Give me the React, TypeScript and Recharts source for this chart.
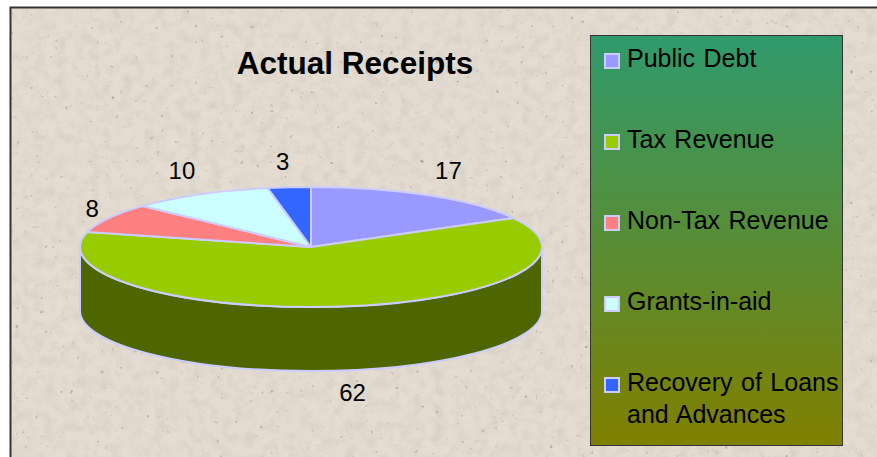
import React from 'react';
import { PieChart, Pie, Legend } from 'recharts';

const categories = ['Public Debt', 'Tax Revenue', 'Non-Tax Revenue', 'Grants-in-aid', 'Recovery of Loans and Advances'];
const receipts = [17, 62, 8, 10, 3];
const topColors = ['#9999FF', '#99CC00', '#FF8080', '#CCFFFF', '#3366FF'];
const sideColors = ['#4D4D80', '#4D6600', '#804040', '#668080', '#1A3380'];

const data = categories.map((name, i) => ({
  name,
  value: receipts[i],
  fill: topColors[i],
  side: sideColors[i]
}));

const WIDTH = 877;
const HEIGHT = 457;
const FONT = '"Liberation Sans", Arial, sans-serif';
const EDGE = '#CCCCFF';

// flattening of the pie and height of its side wall
const SQUASH = 60 / 231;
const DEPTH = 64;

const RAD = Math.PI / 180;

const ellipsePoint = (cx: number, cy: number, r: number, angle: number) => ({
  x: cx + r * Math.cos(angle * RAD),
  y: cy - r * SQUASH * Math.sin(angle * RAD)
});

// recharts runs clockwise, so startAngle is bigger than endAngle
const Slice3D = (props: any) => {
  const { cx, cy, outerRadius: r, startAngle, endAngle, fill, side } = props;
  const ry = r * SQUASH;
  const from = ellipsePoint(cx, cy, r, startAngle);
  const to = ellipsePoint(cx, cy, r, endAngle);
  const large = startAngle - endAngle > 180 ? 1 : 0;
  const top = `M${cx},${cy} L${from.x},${from.y} A${r},${ry} 0 ${large} 1 ${to.x},${to.y} Z`;

  // only the part of the rim in the front half has a visible wall
  const wallStart = Math.min(startAngle, 0);
  const wallEnd = Math.max(endAngle, -180);
  let wall = null;
  if (wallStart > wallEnd) {
    const a = ellipsePoint(cx, cy, r, wallStart);
    const b = ellipsePoint(cx, cy, r, wallEnd);
    const d = `M${a.x},${a.y} A${r},${ry} 0 0 1 ${b.x},${b.y} L${b.x},${b.y + DEPTH} A${r},${ry} 0 0 0 ${a.x},${a.y + DEPTH} Z`;
    wall = <path d={d} fill={side} stroke={EDGE} strokeWidth={2} strokeLinejoin="round" />;
  }

  return (
    <g>
      {wall}
      <path d={top} fill={fill} stroke={EDGE} strokeWidth={2} strokeLinejoin="round" />
    </g>
  );
};

// small per-slice nudges, the labels do not sit on one perfect ellipse
const labelNudgeX = [1, 8, 16, 0, -3];
const labelNudgeY = [-1, -6, 3, 0, 2];

const renderLabel = (props: any) => {
  const { cx, cy, midAngle, value, index } = props;
  const sin = Math.sin(midAngle * RAD);
  const x = cx + 268 * Math.cos(midAngle * RAD) + labelNudgeX[index];
  const y = cy - 88 * sin + (sin < 0 ? DEPTH : 0) + labelNudgeY[index];
  return (
    <text x={x} y={y + 9} textAnchor="middle" fontFamily={FONT} fontSize={24} fill="#000000">
      {value}
    </text>
  );
};

const LegendBox = ({ payload }: any) => (
  <div
    style={{
      position: 'relative',
      boxSizing: 'border-box',
      width: 253,
      height: 411,
      border: '1px solid #333333',
      background: 'linear-gradient(180deg, #2F9A6C 0%, #808000 100%)',
      fontFamily: FONT,
      fontSize: 25,
      lineHeight: '32px',
      color: '#000000'
    }}
  >
    {(payload || []).map((entry: any, i: number) => (
      <div key={entry.value} style={{ position: 'absolute', left: 13, top: 6 + i * 81, width: 236 }}>
        <span
          style={{
            position: 'absolute',
            left: 0,
            top: 11,
            boxSizing: 'border-box',
            width: 16,
            height: 16,
            background: entry.color,
            border: `2px solid ${EDGE}`
          }}
        />
        <div style={{ marginLeft: 23, wordSpacing: 1.5 }}>{entry.value}</div>
      </div>
    ))}
  </div>
);

const Paper = () => (
  <svg width={WIDTH} height={HEIGHT} style={{ position: 'absolute', left: 0, top: 0 }}>
    <defs>
      <filter id="mottle" x="0" y="0" width="100%" height="100%">
        <feTurbulence type="fractalNoise" baseFrequency="0.09" numOctaves={3} seed={7} />
        <feColorMatrix
          type="matrix"
          values="0 0 0 0 0.45  0 0 0 0 0.41  0 0 0 0 0.35  0.35 0.35 0 0 -0.3"
        />
      </filter>
      <filter id="specks" x="0" y="0" width="100%" height="100%">
        <feTurbulence type="fractalNoise" baseFrequency="0.2" numOctaves={2} seed={21} />
        <feColorMatrix
          type="matrix"
          values="0 0 0 0 0.38  0 0 0 0 0.35  0 0 0 0 0.3  5 0 0 0 -3.6"
        />
      </filter>
    </defs>
    <rect x={10.5} y={7.5} width={WIDTH} height={HEIGHT} fill="#E4DCD0" stroke="#333333" strokeWidth={2} />
    <rect x={12} y={9} width={WIDTH} height={HEIGHT} filter="url(#mottle)" />
    <rect x={12} y={9} width={WIDTH} height={HEIGHT} filter="url(#specks)" />
  </svg>
);

export default function App() {
  return (
    <div style={{ position: 'absolute', left: 0, top: 0, width: WIDTH, height: HEIGHT, overflow: 'hidden', background: '#ffffff' }}>
      <Paper />
      <PieChart
        width={WIDTH}
        height={HEIGHT}
        margin={{ top: 0, right: 0, bottom: 0, left: 0 }}
        style={{ position: 'absolute', left: 0, top: 0 }}
      >
        <text x={355} y={74} textAnchor="middle" fontFamily={FONT} fontSize={31.5} fontWeight="bold" fill="#000000">
          Actual Receipts
        </text>
        <Pie
          data={data}
          dataKey="value"
          nameKey="name"
          cx={311}
          cy={247}
          outerRadius={231}
          startAngle={90}
          endAngle={-270}
          stroke={EDGE}
          shape={Slice3D}
          label={renderLabel}
          labelLine={false}
          isAnimationActive={false}
        />
        <Legend
          layout="vertical"
          align="right"
          verticalAlign="middle"
          itemSorter={null}
          content={<LegendBox />}
          wrapperStyle={{ left: 590, top: 35, right: 'auto', bottom: 'auto', width: 253, height: 411 }}
        />
      </PieChart>
    </div>
  );
}
